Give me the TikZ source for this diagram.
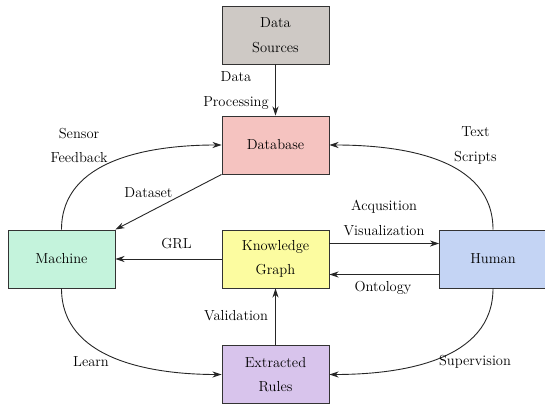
\documentclass[tikz,border=0pt]{standalone}
\usetikzlibrary{arrows.meta}
\definecolor{srcfill}{RGB}{206,201,197}
\definecolor{dbfill}{RGB}{245,195,192}
\definecolor{machfill}{RGB}{196,243,220}
\definecolor{kgfill}{RGB}{252,252,160}
\definecolor{humfill}{RGB}{196,212,244}
\definecolor{rulefill}{RGB}{216,196,236}
\tikzset{
  x=1pt, y=1pt,
  box/.style={draw=black!80, line width=0.95pt, minimum width=107pt, minimum height=58pt,
    align=center, font=\fontsize{14.5}{24.5}\selectfont, inner sep=0pt},
  lbl/.style={align=center, font=\fontsize{14.5}{24.5}\selectfont, inner sep=0pt},
  conn/.style={draw=black!85, line width=0.9pt, -{Stealth[length=9pt,width=6pt]}}
}
\begin{document}
\begin{tikzpicture}
\useasboundingbox (0,0) rectangle (545,406);

% boxes
\node[box, fill=srcfill]  (src)   at (275.5,371)  {Data\\Sources};
\node[box, fill=dbfill]   (db)    at (275.5,261)  {Database};
\node[box, fill=machfill] (mach)  at (61.5,147)   {Machine};
\node[box, fill=kgfill]   (kg)    at (275.5,147)  {Knowledge\\Graph};
\node[box, fill=humfill]  (hum)   at (493,147)    {Human};
\node[box, fill=rulefill] (rules) at (275.5,31.5) {Extracted\\Rules};

% connectors
\draw[conn] (src) -- (db);
\draw[conn] (mach.north) to[out=90,in=180] (db.west);
\draw[conn] (db.south west) -- (mach.north east);
\draw[conn] (kg.west) -- (mach.east);
\draw[conn] ([yshift=15.5pt]kg.east) -- ([yshift=15.5pt]hum.west);
\draw[conn] ([yshift=-15.5pt]hum.west) -- ([yshift=-15.5pt]kg.east);
\draw[conn] (hum.north) to[out=90,in=0] (db.east);
\draw[conn] (mach.south) to[out=-90,in=180] (rules.west);
\draw[conn] (hum.south) to[out=-90,in=0] (rules.east);
\draw[conn] (rules) -- (kg);

% labels
\node[lbl] (lproc) at (236,315.5) {Data\\Processing};
\node[lbl] (lsens) at (79,260.5)  {Sensor\\Feedback};
\node[lbl] (ldset) at (148.5,213.5) {Dataset};
\node[lbl] (lgrl)  at (176.5,162) {GRL};
\node[lbl] (lacq)  at (384,188)   {Acqusition\\Visualization};
\node[lbl] (lont)  at (383,118)   {Ontology};
\node[lbl] (ltext) at (475.5,260.5) {Text\\Scripts};
\node[lbl] (lval)  at (236,90)    {Validation};
\node[lbl] (llrn)  at (91,44)     {Learn};
\node[lbl] (lsup)  at (475,44)    {Supervision};
\end{tikzpicture}
\end{document}
